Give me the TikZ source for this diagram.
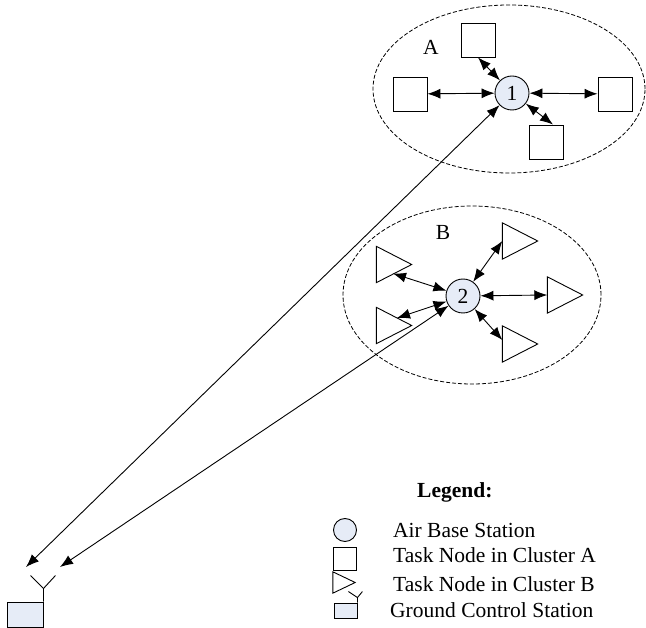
\documentclass[tikz,border=0pt]{standalone}
\usepackage{fontspec}
\setmainfont{Liberation Serif}
\usetikzlibrary{arrows.meta,calc,shapes.geometric}
\definecolor{abs}{HTML}{E6ECF7}
\newcommand\trinode[3][]{\node[tribox,#1] (#2) at (#3) {};
  \draw[shapeline] (#2.north west) -- (#2.east) -- (#2.south west) -- cycle;}
\begin{document}
\begin{tikzpicture}[x=1pt,y=-1pt,
  every node/.style={font=\fontsize{21.5}{25}\selectfont},
  shapeline/.style={line width=0.9pt,line join=miter},
  station/.style={circle,draw,fill=abs,minimum size=34pt,inner sep=0pt,line width=0.9pt},
  sqnode/.style={rectangle,draw,minimum size=34pt,inner sep=0pt,line width=0.9pt},
  tribox/.style={rectangle,minimum width=35pt,minimum height=36pt,inner sep=0pt},
  cluster/.style={ellipse,draw,dash pattern=on 4pt off 2pt,line width=0.8pt,inner sep=0pt},
  link/.style={{Latex[length=13pt,width=10pt]}-{Latex[length=13pt,width=10pt]},line width=0.9pt},
  legtext/.style={anchor=base west,inner sep=0pt}]
\useasboundingbox (0,0) rectangle (646,628);

% Cluster A
\node[cluster,minimum width=272pt,minimum height=168pt] (eA) at (509,89) {};
\node[inner sep=0pt] (lA) at (431,47) {A};
\node[station] (n1) at (512,93) {1};
\node[sqnode] (sqT) at (478,40) {};
\node[sqnode] (sqL) at (410,94) {};
\node[sqnode] (sqR) at (615,94) {};
\node[sqnode] (sqB) at (546,142) {};
\draw[link] (n1) -- (sqL);
\draw[link] (n1) -- (sqR);
\draw[link] (n1) -- (sqT.south);
\draw[link] (n1) -- ([xshift=7pt]sqB.north);

% Cluster B
\node[cluster,minimum width=258pt,minimum height=178pt] (eB) at (472,295) {};
\node[inner sep=0pt] (lB) at (443,232) {B};
\node[station] (n2) at (463,296) {2};
\trinode{tUR}{520,241}
\trinode{tLU}{394,264.5}
\trinode{tLL}{394,325.5}
\trinode{tR}{565,295}
\trinode{tBR}{520,344}
\coordinate (pLU) at ($(tLU.center)+(-1,9)$);
\coordinate (pLL) at ($(tLL.center)+(3,-7.5)$);
\draw[link] (n2) -- (tUR.west);
\draw[link] (n2) -- (pLU);
\draw[link] (n2) -- (pLL);
\draw[link] (n2) -- (tR.west);
\draw[link] (n2) -- ([yshift=4pt]tBR.west);

% Ground control station
\node[draw,fill=abs,minimum width=36pt,minimum height=25pt,inner sep=0pt,line width=0.9pt] (gcs) at (25,614.5) {};
\coordinate (ant) at ($(gcs.north east)+(0,-13)$);
\draw[shapeline] (gcs.north east) -- (ant) -- +(-13,-13);
\draw[shapeline] (ant) -- +(12,-13);
\coordinate (g1) at (26,567);
\coordinate (g2) at (60,567);
\draw[link] (g1) -- (n1);
\draw[link] (g2) -- (n2);

% Legend
\node[legtext,font=\fontsize{21.5}{25}\selectfont\bfseries] (leg) at (417,497) {Legend:};
\node[circle,draw,fill=abs,minimum size=23pt,inner sep=0pt,line width=0.9pt] (lc) at (345,530) {};
\node[rectangle,draw,minimum size=23pt,inner sep=0pt,line width=0.9pt] (ls) at (345,558.5) {};
\node[rectangle,minimum width=22pt,minimum height=21pt,inner sep=0pt] (lt) at (344,582.5) {};
\draw[shapeline] (lt.north west) -- (lt.east) -- (lt.south west) -- cycle;
\node[rectangle,draw,fill=abs,minimum width=23pt,minimum height=15pt,inner sep=0pt,line width=0.9pt] (lg) at (345.5,610.5) {};
\coordinate (lant) at ($(lg.north east)+(0,-5)$);
\draw[shapeline] (lg.north east) -- (lant) -- +(-9,-6);
\draw[shapeline] (lant) -- +(5,-6);
\node[legtext] (t1) at (393,537) {Air Base Station};
\node[legtext] (t2) at (393,562) {Task Node in Cluster A};
\node[legtext] (t3) at (393,591) {Task Node in Cluster B};
\node[legtext] (t4) at (390,617) {Ground Control Station};
\end{tikzpicture}
\end{document}
